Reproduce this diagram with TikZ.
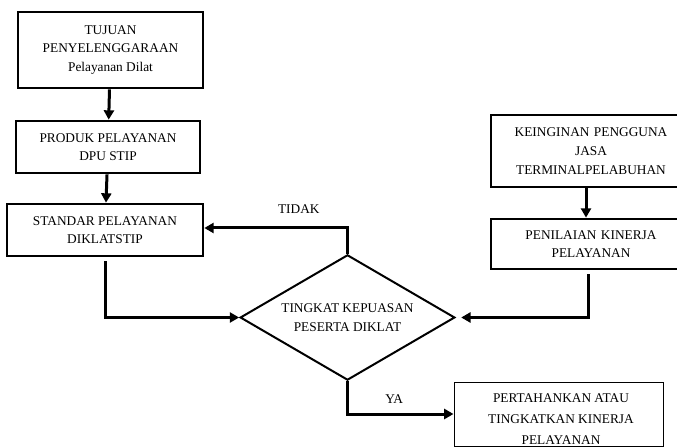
\documentclass[tikz,border=0pt]{standalone}
\usepackage{fontspec}
\setmainfont{Liberation Serif}
\usetikzlibrary{shapes.geometric, arrows.meta, positioning}

\begin{document}
\begin{tikzpicture}[
  x=0.75pt, y=-0.75pt,
  every node/.style={align=center, inner sep=0, font=\fontsize{10}{14}\selectfont},
  stepbox/.style={draw, line width=2pt},
  decision/.style={draw, diamond, aspect=1.72, line width=1.5pt, minimum width=161pt, minimum height=94pt},
  endbox/.style={draw, line width=0.75pt, minimum width=156.75pt, minimum height=48pt},
  flow/.style={line width=2.25pt, -{Triangle[length=7pt,width=7.5pt]}}
]
\useasboundingbox (0,0) rectangle (677,448);

\node[stepbox, minimum width=138.75pt, minimum height=57pt] (tujuan) at (110.5,50) {TUJUAN\\PENYELENGGARAAN\\Pelayanan Dilat};
\node[stepbox, minimum width=138pt, minimum height=39pt] (produk) at (108,147) {PRODUK PELAYANAN\\DPU STIP};
\node[stepbox, minimum width=147pt, minimum height=39pt] (standar) at (105,230) {STANDAR PELAYANAN\\DIKLATSTIP};
\node[stepbox, minimum width=150pt, minimum height=54pt, text width=145.5pt] (keinginan) at (591,151) {KEINGINAN PENGGUNA\\JASA\\TERMINALPELABUHAN};
\node[stepbox, minimum width=150pt, minimum height=37.5pt, text width=145.5pt] (penilaian) at (591,244) {PENILAIAN KINERJA\\PELAYANAN};
\node[decision] (puas) at (347.5,317.5) {TINGKAT KEPUASAN\\PESERTA DIKLAT};
\node[endbox] (kinerja) at (558.5,414) {};
\node[font=\fontsize{10}{16}\selectfont] (kinerjatext) at (561,419) {PERTAHANKAN ATAU\\TINGKATKAN KINERJA\\PELAYANAN};

% alur
\draw[flow] (tujuan) -- (produk);
\draw[flow] (produk) -- (standar);
\draw[flow] ([xshift=-3.75pt]keinginan.south) -- ([xshift=-3.75pt]penilaian.north);
\draw[flow] ([yshift=-3pt]standar.south) |- (puas.west);
\draw[flow, shorten >=4pt] ([xshift=-2.25pt, yshift=-3pt]penilaian.south) |- (puas.east);
\draw[flow] (puas.north) |- node[pos=0.67, above=10pt] (tidak) {TIDAK} ([yshift=1.5pt]standar.east);
\draw[flow] (puas.south) |- node[pos=0.72, above=7pt] (ya) {YA} (kinerja.west);
\end{tikzpicture}
\end{document}
